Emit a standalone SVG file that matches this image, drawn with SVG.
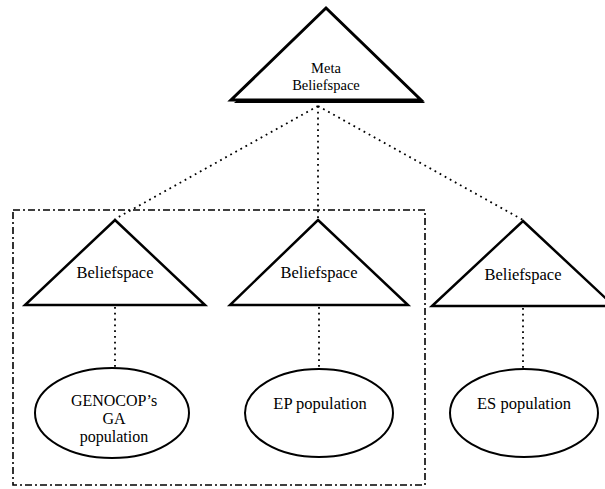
<svg xmlns="http://www.w3.org/2000/svg" width="605" height="489" viewBox="0 0 605 489">
<style>
.tri{fill:#fff;stroke:#000;stroke-width:2.5;stroke-linejoin:miter}
.ell{fill:#fff;stroke:#000;stroke-width:2}
.dot{fill:none;stroke:#000;stroke-width:1.8;stroke-dasharray:1.8 4}
.box{fill:none;stroke:#000;stroke-width:1.6;stroke-dasharray:7 3 2 3}
text{font-family:"Liberation Serif","Times New Roman",serif;font-size:16.5px;fill:#000;text-anchor:middle}
.meta{font-size:14.5px}
.ga{font-size:16px}
</style>
<rect width="605" height="489" fill="#fff"/>
<rect id="group-box" class="box" x="13" y="210" width="412" height="275"/>
<g id="connectors">
<line class="dot" x1="318" y1="106" x2="115" y2="219"/>
<line class="dot" x1="318" y1="106" x2="318" y2="219"/>
<line class="dot" x1="318" y1="106" x2="523" y2="220"/>
<line class="dot" x1="115" y1="307" x2="115" y2="368"/>
<line class="dot" x1="319" y1="307" x2="319" y2="369"/>
<line class="dot" x1="523" y1="308" x2="523" y2="369"/>
</g>
<g id="meta-beliefspace">
<polygon points="329,11 425,103 234,103" fill="#000"/>
<polygon points="326,8 421,100 231,100" fill="#fff" stroke="#000" stroke-width="3"/>
<text class="meta" x="326" y="73">Meta</text>
<text class="meta" x="326" y="90">Beliefspace</text>
</g>
<g id="beliefspace-ga">
<polygon class="tri" points="115,220 205,305 25,305"/>
<text x="115" y="278">Beliefspace</text>
</g>
<g id="beliefspace-ep">
<polygon class="tri" points="318,220 408,305 230,305"/>
<text x="319" y="278">Beliefspace</text>
</g>
<g id="beliefspace-es">
<polygon class="tri" points="523,221 614,306 432,306"/>
<text x="523" y="280">Beliefspace</text>
</g>
<g id="ga-population">
<ellipse class="ell" cx="112" cy="413" rx="77" ry="45"/>
<text class="ga" x="114" y="406">GENOCOP’s</text>
<text class="ga" x="114" y="424">GA</text>
<text class="ga" x="114" y="442">population</text>
</g>
<g id="ep-population">
<ellipse class="ell" cx="319" cy="413" rx="74" ry="44"/>
<text x="320" y="409">EP population</text>
</g>
<g id="es-population">
<ellipse class="ell" cx="524" cy="413" rx="74" ry="44"/>
<text x="524" y="409">ES population</text>
</g>
</svg>
